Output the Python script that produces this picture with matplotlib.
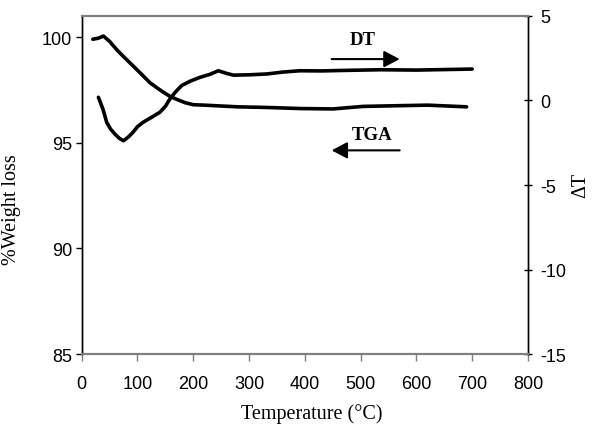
import matplotlib
matplotlib.use("Agg")
import matplotlib.pyplot as plt

plt.rcParams['axes.unicode_minus'] = False

# ---- data ----
tga_temp = [20, 30, 39, 50, 63, 78, 92, 107, 122, 135, 146, 158, 170, 185, 200,
            220, 242, 280, 332, 391, 450, 504, 560, 620, 690]
tga_weight = [99.9, 99.95, 100.05, 99.8, 99.4, 99.0, 98.64, 98.25, 97.85, 97.6,
              97.4, 97.2, 97.06, 96.9, 96.8, 96.78, 96.75, 96.7, 96.67, 96.62,
              96.6, 96.72, 96.75, 96.78, 96.7]

dt_temp = [30, 38, 45, 52, 60, 68, 75, 84, 92, 100, 110, 125, 140, 150, 158, 168,
           179, 195, 212, 230, 245, 260, 272, 300, 332, 360, 391, 430, 470, 535,
           600, 650, 700]
dt_values = [0.19, -0.5, -1.3, -1.7, -2.0, -2.25, -2.38, -2.15, -1.88, -1.55,
             -1.29, -1.0, -0.7, -0.35, 0.09, 0.5, 0.88, 1.15, 1.37, 1.55, 1.76,
             1.6, 1.5, 1.52, 1.57, 1.68, 1.76, 1.75, 1.78, 1.82, 1.8, 1.83, 1.86]

x_ticks = [0, 100, 200, 300, 400, 500, 600, 700, 800]
left_ticks = [85, 90, 95, 100]
right_ticks = [-15, -10, -5, 0, 5]

tick_font = ['Liberation Sans Narrow', 'Liberation Sans', 'DejaVu Sans']
serif_font = ['Liberation Serif', 'DejaVu Serif']

fig = plt.figure(figsize=(5.94, 4.27), dpi=100)
ax = fig.add_axes([0.1375, 0.1686, 0.7514, 0.7916])
ax2 = ax.twinx()

ax.plot(tga_temp, tga_weight, color='black', lw=2.6, solid_capstyle='round')
ax2.plot(dt_temp, dt_values, color='black', lw=2.6, solid_capstyle='round')

ax.set_xlim(0, 800)
ax.set_ylim(85, 101)
ax2.set_ylim(-15, 5)

ax.set_xticks(x_ticks)
ax.set_yticks(left_ticks)
ax2.set_yticks(right_ticks)

for a in (ax, ax2):
    a.spines['top'].set_color('#808080')
    a.spines['bottom'].set_color('#808080')
    a.spines['top'].set_linewidth(1.5)
    a.spines['bottom'].set_linewidth(1.5)
    a.spines['left'].set_color('black')
    a.spines['right'].set_color('black')
    a.spines['left'].set_linewidth(1.0)
    a.spines['right'].set_linewidth(1.0)

ax.tick_params(axis='y', direction='out', length=4, width=1, pad=3,
               labelsize=13, colors='black')
ax.tick_params(axis='x', direction='out', length=5, width=1, pad=10,
               labelsize=13, color='#808080', labelcolor='black')
ax2.tick_params(axis='y', direction='inout', length=6, width=1, pad=6,
                labelsize=13)

for lab in ax.get_xticklabels() + ax.get_yticklabels() + ax2.get_yticklabels():
    lab.set_fontfamily(tick_font)

fig.text(0.525, 0.008, 'Temperature (°C)', family=serif_font, fontsize=14.5,
         ha='center', va='bottom')
fig.text(0.02, 0.51, '%Weight loss', family=serif_font, fontsize=14.5,
         ha='center', va='center', rotation=90)
fig.text(0.978, 0.565, 'ΔT', family=serif_font, fontsize=14.5,
         ha='center', va='center', rotation=90)

# annotations (right-axis data coords)
arrow_style = '-|>,head_length=0.95,head_width=0.5'
ax2.annotate('', xy=(570, 2.45), xytext=(448, 2.45),
             arrowprops=dict(arrowstyle=arrow_style, color='black', lw=1.5,
                             shrinkA=0, shrinkB=0))
ax2.text(504, 3.6, 'DT', family=serif_font, fontweight='bold', fontsize=13.5,
         ha='center', va='center')
ax2.annotate('', xy=(448, -2.95), xytext=(570, -2.95),
             arrowprops=dict(arrowstyle=arrow_style, color='black', lw=1.5,
                             shrinkA=0, shrinkB=0))
ax2.text(520, -2.0, 'TGA', family=serif_font, fontweight='bold', fontsize=13.5,
         ha='center', va='center')

fig.savefig('out.png', dpi=100)
